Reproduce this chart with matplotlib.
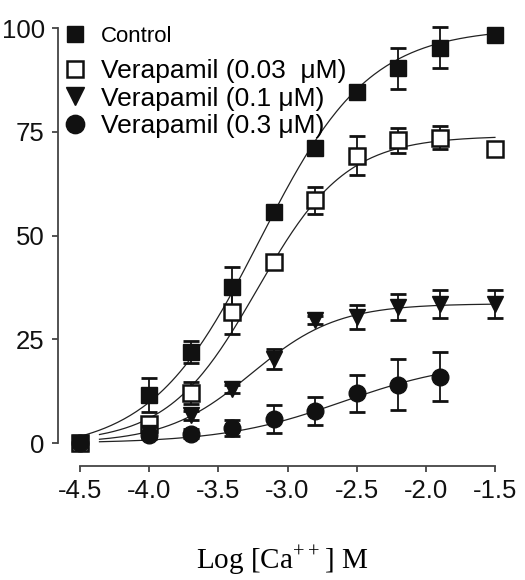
import numpy as np
import matplotlib
matplotlib.use("Agg")
import matplotlib.pyplot as plt
from matplotlib.lines import Line2D

plt.rcParams["font.family"] = ["Liberation Sans", "DejaVu Sans"]
plt.rcParams["mathtext.fontset"] = "custom"
plt.rcParams["mathtext.rm"] = "Liberation Serif"

# log [Ca++] concentrations
log_ca = [-4.5, -4.0, -3.7, -3.4, -3.1, -2.8, -2.5, -2.2, -1.9, -1.5]
log_ca_03 = [-4.5, -4.0, -3.7, -3.4, -3.1, -2.8, -2.5, -2.2, -1.9]

# responses (% of max) and SEM
control = [0, 11.6, 22.0, 37.5, 55.7, 71.0, 84.7, 90.3, 95.3, 98.3]
control_err = [0, 4.2, 2.6, 5.0, 1.0, 1.0, 1.0, 5.0, 5.0, 1.0]
vera_003 = [0, 4.6, 12.1, 31.5, 43.7, 58.5, 69.2, 73.0, 73.6, 70.8]
vera_003_err = [0, 1.5, 2.7, 5.3, 1.0, 3.3, 4.7, 3.0, 2.8, 0]
vera_01 = [0, 2.5, 6.7, 13.0, 20.2, 29.6, 30.4, 32.8, 33.5, 33.6]
vera_01_err = [0, 1.0, 1.0, 1.0, 2.4, 1.0, 2.8, 3.2, 3.4, 3.4]
vera_03 = [0, 1.9, 2.3, 3.7, 5.9, 7.7, 12.0, 14.1, 16.0]
vera_03_err = [0, 1.0, 1.0, 1.9, 3.4, 3.3, 4.4, 6.1, 5.9]

labels = ["Control", "Verapamil (0.03  \u03bcM)", "Verapamil (0.1 \u03bcM)",
          "Verapamil (0.3 \u03bcM)"]

# sigmoid fit parameters (bottom, top, logEC50, hill slope, range)
fit_bottom = [-2, 0, 0, 0]
fit_top = [100, 74, 33.6, 20]
fit_ec50 = [-3.2, -3.22, -3.26, -2.6]
fit_slope = [1.1, 1.35, 1.4, 1.0]
fit_start = [-4.5, -4.36, -4.36, -4.36]
fit_end = [-1.5, -1.5, -1.5, -1.9]


def hill(x, bottom, top, ec50, slope):
    return bottom + (top - bottom) / (1 + 10 ** (slope * (ec50 - x)))


fig = plt.figure(figsize=(5.25, 5.8), dpi=100)
ax = fig.add_axes([58 / 525, (580 - 466) / 580, 448 / 525, (466 - 19.7) / 580])

series = [
    (log_ca, control, control_err, dict(marker="s", mfc="#111111", mec="#111111", ms=11)),
    (log_ca, vera_003, vera_003_err, dict(marker="s", mfc="white", mec="#111111", ms=11, mew=1.8)),
    (log_ca, vera_01, vera_01_err, dict(marker="v", mfc="#111111", mec="#111111", ms=12)),
    (log_ca_03, vera_03, vera_03_err, dict(marker="o", mfc="#111111", mec="#111111", ms=12)),
]

# draw fits first, then the points
for i in range(4):
    xs = np.linspace(fit_start[i], fit_end[i], 200)
    ys = hill(xs, fit_bottom[i], fit_top[i], fit_ec50[i], fit_slope[i])
    ax.plot(xs, ys, color="#222222", lw=0.9, zorder=2)

for i in reversed(range(4)):
    x, y, e, st = series[i]
    ax.errorbar(x, y, yerr=e, fmt="none", ecolor="#111111", elinewidth=1.3,
                capsize=6, capthick=2, zorder=3 + i, clip_on=False)
    ax.plot(x, y, ls="none", zorder=4 + i, clip_on=False, **st)

ax.set_xlim(-4.66, -1.42)
ax.set_ylim(-5.5, 102)
ax.spines["top"].set_visible(False)
ax.spines["right"].set_visible(False)
for s in ["left", "bottom"]:
    ax.spines[s].set_color("#444444")
    ax.spines[s].set_linewidth(1.3)
ax.spines["left"].set_bounds(0, 100)
ax.spines["bottom"].set_bounds(-4.5, -1.5)

ax.set_xticks([-4.5, -4.0, -3.5, -3.0, -2.5, -2.0, -1.5])
ax.set_xticklabels(["-4.5", "-4.0", "-3.5", "-3.0", "-2.5", "-2.0", "-1.5"])
ax.set_yticks([0, 25, 50, 75, 100])
ax.tick_params(axis="both", direction="out", length=4.5, width=1.3, color="#444444",
               labelsize=18.5, labelcolor="#111111")
ax.tick_params(axis="y", pad=5)
ax.tick_params(axis="x", pad=5)

ax.set_xlabel("Log [Ca$^{++}$] M", family="Liberation Serif", fontsize=21, labelpad=29)

handles = [Line2D([], [], ls="none", **series[i][3]) for i in range(4)]

# Control entry is set smaller and apart from the three verapamil entries
leg1 = ax.legend(handles[:1], labels[:1], loc="upper left",
                 bbox_to_anchor=(66 / 525, 1 - 26 / 580), bbox_transform=fig.transFigure,
                 frameon=False, fontsize=16, handlelength=0.8, handletextpad=0.77,
                 borderpad=0, borderaxespad=0, markerscale=1.1)
ax.add_artist(leg1)
ax.legend(handles[1:], labels[1:], loc="upper left",
          bbox_to_anchor=(64.5 / 525, 1 - 59 / 580), bbox_transform=fig.transFigure,
          frameon=False, fontsize=19, handlelength=0.8, handletextpad=0.59,
          labelspacing=0.14, borderpad=0, borderaxespad=0, markerscale=1.1)

fig.savefig("out.png", dpi=100)
